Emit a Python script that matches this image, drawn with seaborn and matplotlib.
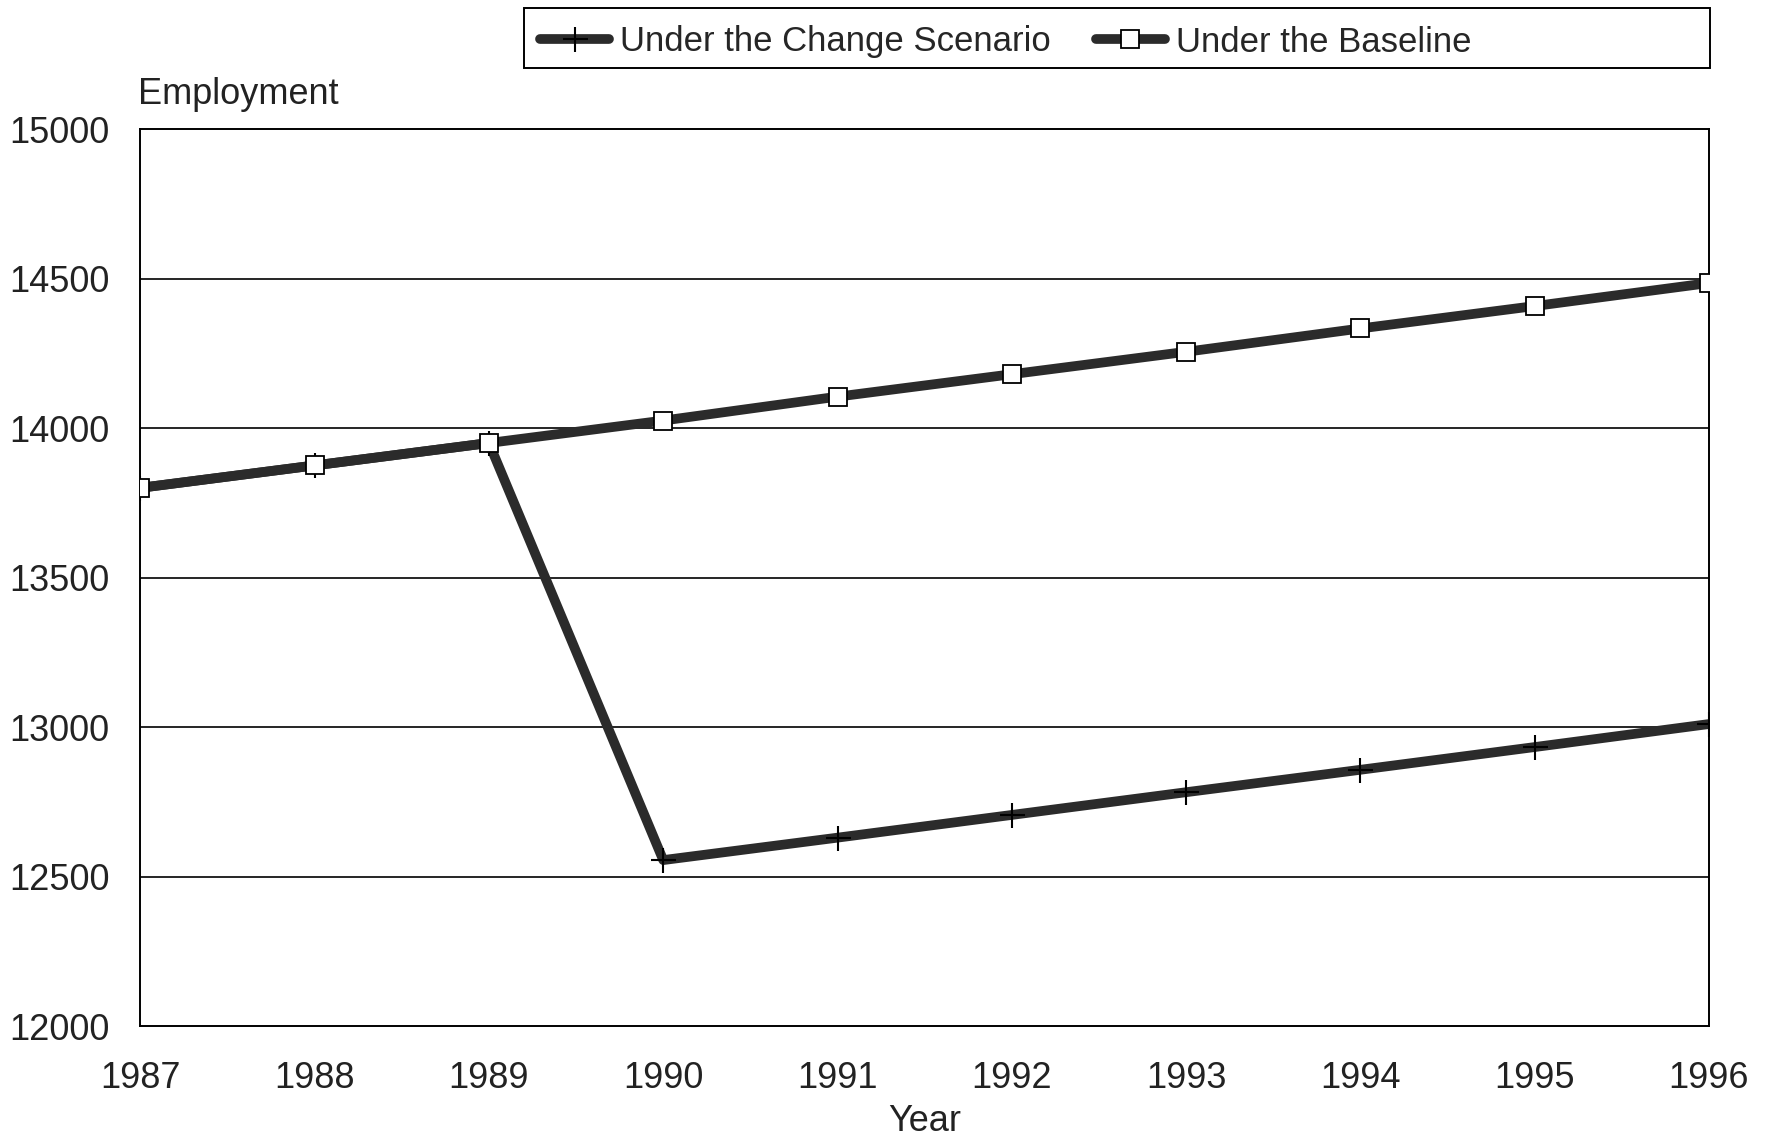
import pandas as pd
import matplotlib
matplotlib.use("Agg")
import matplotlib.pyplot as plt
from matplotlib.patches import Rectangle
import seaborn as sns

years = [1987, 1988, 1989, 1990, 1991, 1992, 1993, 1994, 1995, 1996]
baseline = [13800, 13875, 13950, 14025, 14105, 14180, 14255, 14333, 14408, 14485]
change = [13800, 13875, 13950, 12555, 12630, 12706, 12782, 12857, 12933, 13010]
yticks = [12000, 12500, 13000, 13500, 14000, 14500, 15000]

sns.set_theme(style="white")
plt.rcParams['font.family'] = ['Liberation Sans', 'DejaVu Sans']

df = pd.DataFrame({"Year": years, "Change": change, "Baseline": baseline})

fig = plt.figure(figsize=(17.77, 11.38), dpi=100)
ax = fig.add_axes([0.079, 0.0984, 0.8827, 0.7882])

line_col = "#2b2b2b"
sns.lineplot(data=df, x="Year", y="Change", ax=ax, color=line_col, linewidth=7,
             marker="+", markersize=18, markeredgewidth=1.5, markeredgecolor="black",
             label="Under the Change Scenario", zorder=3)
sns.lineplot(data=df, x="Year", y="Baseline", ax=ax, color=line_col, linewidth=7,
             marker="s", markersize=13, markerfacecolor="white", markeredgecolor="black",
             markeredgewidth=1.3, label="Under the Baseline", zorder=4)

ax.set_xlim(1987, 1996)
ax.set_ylim(12000, 15000)
ax.set_xticks(years)
ax.set_yticks(yticks)
ax.tick_params(axis="both", length=0, labelsize=26, colors="#222222")
ax.tick_params(axis="x", pad=25)
ax.tick_params(axis="y", pad=22)
for y in yticks[1:-1]:
    ax.axhline(y, color="black", linewidth=1.2, zorder=1)
for s in ax.spines.values():
    s.set_color("black")
    s.set_linewidth(1.4)
    s.set_visible(True)

ax.set_xlabel("Year", fontsize=26, labelpad=6, color="#222222")
ax.set_ylabel("")
fig.text(138 / 1777, 1 - 94 / 1138, "Employment", fontsize=26, color="#222222",
         ha="left", va="center")

# legend box spans the width of the plot; entries sit at its left
fig.patches.append(Rectangle((524 / 1777, 1 - 68 / 1138), (1710 - 524) / 1777, 60 / 1138,
                             transform=fig.transFigure, fill=False, edgecolor="black",
                             linewidth=1.4))
ax.get_legend().remove()
handles, labels = ax.get_legend_handles_labels()
fig.legend(handles, labels, ncol=2, loc="center left",
           bbox_to_anchor=(540 / 1777, 1 - 42 / 1138),
           frameon=False, fontsize=25, handlelength=2.0, handletextpad=0.3,
           columnspacing=1.3, borderaxespad=0, borderpad=0)

fig.savefig("out.png", dpi=100, facecolor="white")
